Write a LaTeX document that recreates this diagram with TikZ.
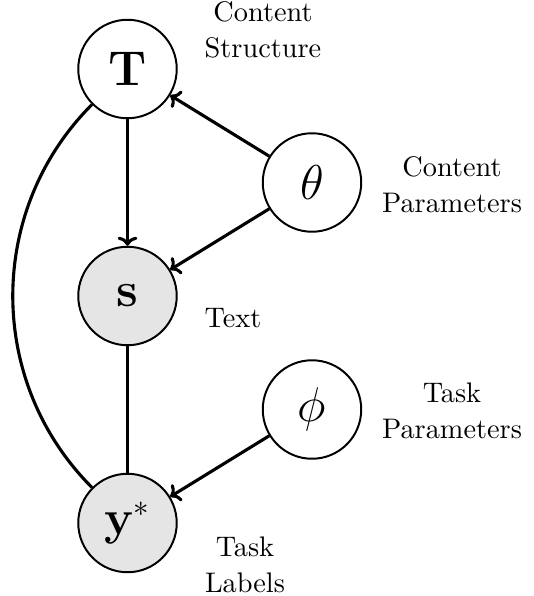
\documentclass[tikz,border=0pt]{standalone}
\usepackage{amsmath}
\usetikzlibrary{arrows.meta}
\begin{document}
\begin{tikzpicture}[x=0.35336pt, y=-0.35336pt,
  var/.style={circle, draw, line width=0.7pt, minimum size=34.8pt, inner sep=0pt,
    font=\fontsize{16}{19}\selectfont},
  obs/.style={var, fill=black!10},
  lbl/.style={align=center, font=\fontsize{10}{12.6}\selectfont},
  edge/.style={line width=1.1pt, -{To[length=3.2pt,width=7pt]}},
  link/.style={line width=1.1pt}]
  \useasboundingbox (0,0) rectangle (534,596);

  % variables
  \node[var] (T)     at (127.5,69)  {$\mathbf{T}$};
  \node[var] (theta) at (312,182.5) {$\theta$};
  \node[obs] (s)     at (127.5,296) {$\mathbf{s}$};
  \node[var] (phi)   at (312,409.5) {$\phi$};
  \node[obs] (y)     at (127.5,523) {$\mathbf{y}^{*}$};

  % descriptions
  \node[lbl] (lT)     at (263,30)  {Content\\Structure};
  \node[lbl] (ltheta) at (452,185) {Content\\Parameters};
  \node[lbl] (ls)     at (233,318) {Text};
  \node[lbl] (lphi)   at (452,411) {Task\\Parameters};
  \node[lbl] (ly)     at (245,565) {Task\\Labels};

  % dependencies
  \draw[edge] (T) -- (s);
  \draw[edge] (theta) -- (T);
  \draw[edge] (theta) -- (s);
  \draw[edge] (phi) -- (y);
  \draw[link] (s) -- (y);
  \draw[link] (T) to[bend right=45] (y);
\end{tikzpicture}
\end{document}
